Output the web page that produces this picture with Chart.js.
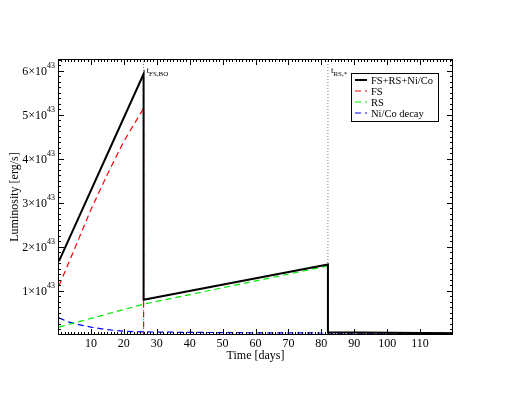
<!DOCTYPE html>
<html>
<head>
<meta charset="utf-8">
<script src="https://cdn.jsdelivr.net/npm/chart.js@4.4.1/dist/chart.umd.min.js"></script>
<style>
  html, body { margin: 0; padding: 0; background: #fff; }
  #wrap { width: 510px; height: 395px; }
</style>
</head>
<body>
<div id="wrap"><canvas id="lum" width="510" height="395"></canvas></div>
<script>
// luminosity in units of 1e43 erg/s, time in days
const totalT = [0.3, 26, 26, 82, 82, 120];
const totalL = [1.68, 5.93, 0.8, 1.6, 0.06, 0.04];

const fsT = [0.3, 5, 10, 15, 20, 26, 26];
const fsL = [1.12, 1.95, 2.85, 3.65, 4.4, 5.15, 0];

const rsT = [0.3, 26, 82, 82];
const rsL = [0.18, 0.7, 1.57, 0];

const niT = [0.3, 3, 6, 10, 15, 20, 26, 40, 60, 82, 100, 120];
const niL = [0.39, 0.3, 0.24, 0.18, 0.12, 0.085, 0.07, 0.06, 0.05, 0.045, 0.04, 0.035];

const markT = [26, 82];
const markNames = [['t', 'FS,BO'], ['t', 'RS,*']];

const xTicks = [10, 20, 30, 40, 50, 60, 70, 80, 90, 100, 110];
const yTicks = [1, 2, 3, 4, 5, 6];
const xMin = 0, xMax = 120, yMin = 0, yMax = 6.27;

const pts = (xs, ys) => xs.map((x, i) => ({ x: x, y: ys[i] }));
const serif = "'Liberation Serif', 'Times New Roman', serif";

const datasets = [
  { label: 'FS+RS+Ni/Co', data: pts(totalT, totalL), borderColor: '#000000', borderWidth: 2 },
  { label: 'FS', data: pts(fsT, fsL), borderColor: '#ff0000', borderWidth: 1.2, borderDash: [6, 4] },
  { label: 'RS', data: pts(rsT, rsL), borderColor: '#00ee00', borderWidth: 1.2, borderDash: [6, 4] },
  { label: 'Ni/Co decay', data: pts(niT, niL), borderColor: '#0000ff', borderWidth: 1.2, borderDash: [6, 4] }
];
markT.forEach(t => {
  datasets.push({ label: '', marker: true, data: pts([t, t], [yMin, yMax]),
    borderColor: '#777777', borderWidth: 1, borderDash: [1, 2] });
});
datasets.forEach(d => { d.showLine = true; d.pointRadius = 0; d.fill = false; d.tension = 0; });

// frame, inward ticks, tick labels with superscripts, titles, legend, marker text
const decor = {
  id: 'decor',
  afterDraw(chart) {
    const c = chart.ctx, a = chart.chartArea;
    const xs = chart.scales.x, ys = chart.scales.y;
    c.save();
    c.strokeStyle = '#000';
    c.lineWidth = 1;
    c.strokeRect(a.left + 0.5, a.top + 0.5, a.right - a.left - 1, a.bottom - a.top - 1);

    c.beginPath();
    for (let v = xMin + 1; v < xMax; v++) {
      const px = Math.round(xs.getPixelForValue(v)) + 0.5;
      const len = v % 10 === 0 ? 6 : 3;
      c.moveTo(px, a.bottom); c.lineTo(px, a.bottom - len);
      c.moveTo(px, a.top); c.lineTo(px, a.top + len);
    }
    for (let v = yMin + 0.125; v < yMax; v += 0.125) {
      const py = Math.round(ys.getPixelForValue(v)) + 0.5;
      const len = Math.abs(v - Math.round(v)) < 1e-6 ? 6 : 3;
      c.moveTo(a.left, py); c.lineTo(a.left + len, py);
      c.moveTo(a.right, py); c.lineTo(a.right - len, py);
    }
    c.stroke();

    c.fillStyle = '#000';
    c.font = '12px ' + serif;
    c.textAlign = 'center';
    c.textBaseline = 'top';
    xTicks.forEach(v => c.fillText(String(v), xs.getPixelForValue(v), a.bottom + 3));

    yTicks.forEach(v => {
      const py = ys.getPixelForValue(v);
      c.font = '8px ' + serif;
      const sw = c.measureText('43').width;
      c.textAlign = 'right';
      c.textBaseline = 'middle';
      c.fillText('43', a.left - 3, py - 5);
      c.font = '12px ' + serif;
      c.fillText(v + '\u00d710', a.left - 3 - sw, py + 1);
    });

    c.font = '12px ' + serif;
    c.textAlign = 'center';
    c.textBaseline = 'middle';
    c.fillText('Time [days]', (a.left + a.right) / 2, 356);
    c.save();
    c.translate(15, (a.top + a.bottom) / 2);
    c.rotate(-Math.PI / 2);
    c.fillText('Luminosity [erg/s]', 0, 0);
    c.restore();

    markT.forEach((t, i) => {
      const px = xs.getPixelForValue(t) + 3;
      c.textAlign = 'left';
      c.textBaseline = 'alphabetic';
      c.font = '9px ' + serif;
      c.fillText(markNames[i][0], px, a.top + 14);
      const w = c.measureText(markNames[i][0]).width;
      c.font = '7px ' + serif;
      c.fillText(markNames[i][1], px + w, a.top + 17);
    });

    // legend box
    const lx = 351, ly = 73, lw = 87, lh = 48;
    c.fillStyle = '#fff';
    c.fillRect(lx, ly, lw, lh);
    c.strokeStyle = '#000';
    c.lineWidth = 1;
    c.strokeRect(lx + 0.5, ly + 0.5, lw, lh);
    datasets.filter(d => !d.marker).forEach((d, i) => {
      const yy = ly + 7 + i * 11;
      c.beginPath();
      c.strokeStyle = d.borderColor;
      c.lineWidth = d.borderWidth;
      c.setLineDash(d.borderDash || []);
      c.moveTo(lx + 4, yy); c.lineTo(lx + 16, yy);
      c.stroke();
      c.setLineDash([]);
      c.fillStyle = '#000';
      c.font = '10.5px ' + serif;
      c.textAlign = 'left';
      c.textBaseline = 'middle';
      c.fillText(d.label, lx + 20, yy + 1);
    });
    c.restore();
  }
};

new Chart(document.getElementById('lum'), {
  type: 'scatter',
  data: { datasets: datasets },
  options: {
    responsive: false,
    animation: false,
    layout: { padding: { top: 59, right: 57, left: 0, bottom: 0 } },
    plugins: { legend: { display: false }, tooltip: { enabled: false } },
    scales: {
      x: {
        type: 'linear', min: xMin, max: xMax,
        grid: { display: false }, border: { display: false },
        ticks: { display: false },
        afterFit(s) { s.height = 60; }
      },
      y: {
        type: 'linear', min: yMin, max: yMax,
        grid: { display: false }, border: { display: false },
        ticks: { display: false },
        afterFit(s) { s.width = 58; }
      }
    }
  },
  plugins: [decor]
});
</script>
</body>
</html>
